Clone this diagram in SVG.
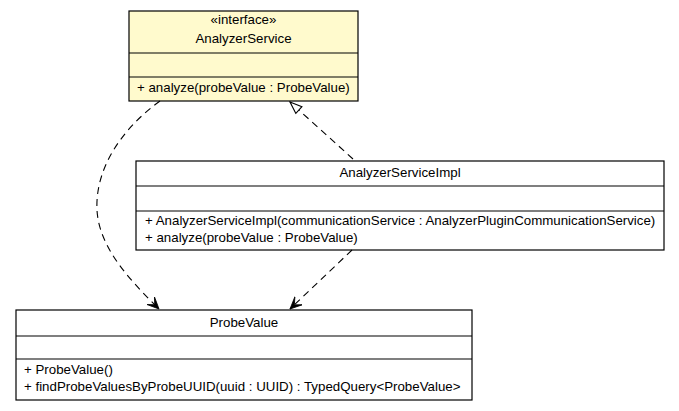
<svg xmlns="http://www.w3.org/2000/svg" width="679" height="411" viewBox="0 0 679 411">
<style>
.box{stroke:#000;stroke-width:1.2;}
.line{stroke:#000;stroke-width:1.2;}
text{font-family:"Liberation Sans",Arial,sans-serif;font-size:13.3px;fill:#000;}
.c{text-anchor:middle;}
.dep{fill:none;stroke:#000;stroke-width:1.1;stroke-dasharray:7,5;}
</style>
<defs>
<marker id="vee" markerUnits="userSpaceOnUse" markerWidth="14" markerHeight="12" refX="12" refY="6" orient="auto" viewBox="0 0 14 12">
<path d="M0,0.5 L12,6 L0,11.5 L6,6 Z" fill="#000" stroke="#000" stroke-width="0.8" stroke-linejoin="miter"/>
</marker>
<marker id="tri" markerUnits="userSpaceOnUse" markerWidth="15" markerHeight="12" refX="13" refY="6" orient="auto" viewBox="0 0 15 12">
<path d="M1,1.5 L13,6 L1,10.5 Z" fill="#fff" stroke="#000" stroke-width="1.1"/>
</marker>
</defs>
<g id="AnalyzerService">
<rect class="box" x="129" y="11" width="229" height="90" fill="#FFFACD"/>
<line class="line" x1="129" y1="53" x2="358" y2="53"/>
<line class="line" x1="129" y1="77" x2="358" y2="77"/>
<text class="c" x="243.5" y="24">«interface»</text>
<text class="c" x="243.5" y="43">AnalyzerService</text>
<text x="137" y="92">+ analyze(probeValue : ProbeValue)</text>
</g>
<g id="AnalyzerServiceImpl">
<rect class="box" x="136" y="161" width="528" height="89" fill="#fff"/>
<line class="line" x1="136" y1="186" x2="664" y2="186"/>
<line class="line" x1="136" y1="211" x2="664" y2="211"/>
<text class="c" x="400" y="177">AnalyzerServiceImpl</text>
<text x="145" y="225">+ AnalyzerServiceImpl(communicationService : AnalyzerPluginCommunicationService)</text>
<text x="145" y="242">+ analyze(probeValue : ProbeValue)</text>
</g>
<g id="ProbeValue">
<rect class="box" x="16" y="310" width="456" height="90" fill="#fff"/>
<line class="line" x1="16" y1="336" x2="472" y2="336"/>
<line class="line" x1="16" y1="359" x2="472" y2="359"/>
<text class="c" x="244" y="327">ProbeValue</text>
<text x="24" y="374">+ ProbeValue()</text>
<text x="24" y="391">+ findProbeValuesByProbeUUID(uuid : UUID) : TypedQuery&lt;ProbeValue&gt;</text>
</g>
<g id="connectors">
<path class="dep" d="M160,101 C120,130 95,170 97,210 C99,250 135,285 159,309" marker-end="url(#vee)"/>
<path class="dep" d="M352,250 L290,309" marker-end="url(#vee)"/>
<path class="dep" d="M353,159 L290,102" marker-end="url(#tri)"/>
</g>
</svg>
